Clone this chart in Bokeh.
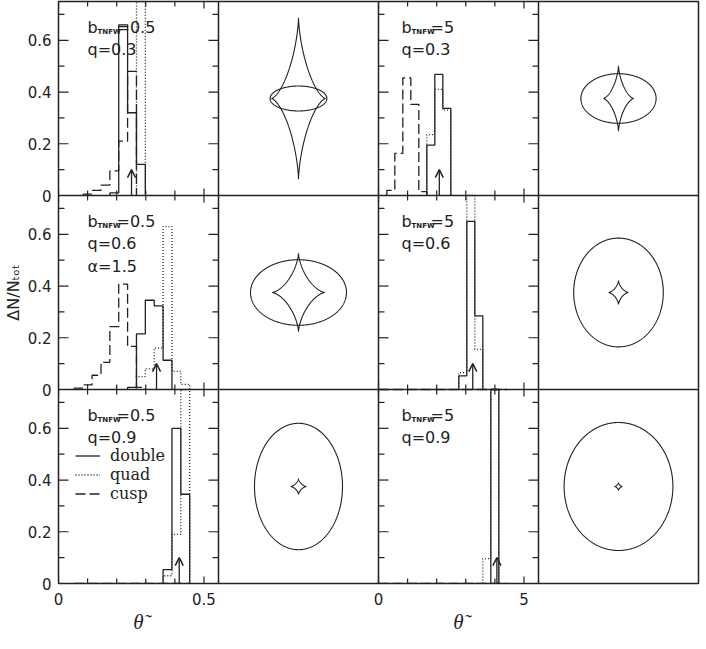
import numpy as np
from bokeh.plotting import figure
from bokeh.models import (Range1d, LinearAxis, FixedTicker, Label, Arrow, OpenHead,
                          Legend, LegendItem, Span)
from bokeh.embed import file_html
from bokeh.resources import INLINE

# ---------------- data ----------------
edges_b05 = [0.0545, 0.085, 0.1155, 0.146, 0.1765, 0.207, 0.2375, 0.268, 0.2985,
             0.329, 0.3595, 0.390, 0.4205, 0.451]
edges_b5 = [0.011, 0.286, 0.561, 0.836, 1.111, 1.386, 1.661, 1.936, 2.211, 2.486,
            2.761, 3.036, 3.311, 3.586, 3.861, 4.136, 4.411]

double_b05_q03 = [0, 0, 0, 0, 0.01, 0.66, 0.32, 0.12, 0, 0, 0, 0, 0]
quad_b05_q03 = [0, 0, 0, 0, 0, 0, 0, 0.95, 0, 0, 0, 0, 0]
cusp_b05_q03 = [0, 0.005, 0.02, 0.04, 0.095, 0.21, 0.48, 0, 0, 0, 0, 0, 0]

double_b05_q06 = [0, 0, 0, 0, 0, 0, 0.008, 0.215, 0.345, 0.323, 0.113, 0, 0]
quad_b05_q06 = [0, 0, 0, 0, 0, 0, 0, 0.05, 0.08, 0.16, 0.63, 0.07, 0.02]
cusp_b05_q06 = [0.005, 0.018, 0.055, 0.105, 0.243, 0.407, 0.167, 0.008, 0, 0, 0, 0, 0]

double_b05_q09 = [0, 0, 0, 0, 0, 0, 0, 0, 0, 0, 0.054, 0.60, 0.345]
quad_b05_q09 = [0, 0, 0, 0, 0, 0, 0, 0, 0, 0, 0.03, 0.19, 0.95]
cusp_b05_q09 = [0, 0, 0, 0, 0, 0, 0, 0, 0, 0, 0, 0, 0]

double_b5_q03 = [0, 0, 0, 0, 0, 0, 0.195, 0.468, 0.337, 0, 0, 0, 0, 0, 0, 0]
quad_b5_q03 = [0, 0, 0, 0, 0, 0, 0.235, 0.41, 0.33, 0, 0, 0, 0, 0, 0, 0]
cusp_b5_q03 = [0, 0.02, 0.163, 0.455, 0.352, 0.015, 0, 0, 0, 0, 0, 0, 0, 0, 0, 0]

double_b5_q06 = [0, 0, 0, 0, 0, 0, 0, 0, 0, 0, 0.053, 0.65, 0.285, 0, 0, 0]
quad_b5_q06 = [0, 0, 0, 0, 0, 0, 0, 0, 0, 0, 0.065, 0.95, 0.155, 0, 0, 0]
cusp_b5_q06 = [0, 0, 0, 0, 0, 0, 0, 0, 0, 0, 0, 0, 0, 0, 0, 0]

double_b5_q09 = [0, 0, 0, 0, 0, 0, 0, 0, 0, 0, 0, 0, 0, 0, 0.95, 0]
quad_b5_q09 = [0, 0, 0, 0, 0, 0, 0, 0, 0, 0, 0, 0, 0, 0.096, 0.95, 0]
cusp_b5_q09 = [0, 0, 0, 0, 0, 0, 0, 0, 0, 0, 0, 0, 0, 0, 0, 0]

arrows_b05 = [0.251, 0.337, 0.415]
arrows_b5 = [2.09, 3.24, 4.07]
arrow_height = 0.1

b_values = ["0.5", "5"]
q_values = ["0.3", "0.6", "0.9"]
alpha_text = "1.5"

# axes
y_max = 0.75
x_max_b05 = 0.55
x_max_b5 = 5.5
y_major_ticks = [0, 0.2, 0.4, 0.6]
y_minor_ticks = [0.1, 0.3, 0.5, 0.7]
y_tick_labels = ["0", "0.2", "0.4", "0.6"]
x_major_b05 = [0, 0.5]
x_minor_b05 = [0.1, 0.2, 0.3, 0.4]
x_labels_b05 = ["0", "0.5"]
x_major_b5 = [0, 5]
x_minor_b5 = [1, 2, 3, 4]
x_labels_b5 = ["0", "5"]

# caustic shapes (units: half panel width = 1); order q=0.3, 0.6, 0.9
astroid_half_x_b05 = [0.34, 0.33, 0.10]
astroid_half_y_b05 = [1.01, 0.49, 0.10]
ellipse_half_x_b05 = [0.355, 0.60, 0.55]
ellipse_half_y_b05 = [0.156, 0.41, 0.79]
astroid_half_x_b5 = [0.19, 0.125, 0.05]
astroid_half_y_b5 = [0.41, 0.15, 0.05]
ellipse_half_x_b5 = [0.47, 0.56, 0.68]
ellipse_half_y_b5 = [0.31, 0.68, 0.80]

# ---------------- layout ----------------
NCOL, NROW = 4, 3
FW, FH = 160, 194
INK = "#222222"
SANS = "DejaVu Sans"
SERIF = "DejaVu Serif"
THETA = "\u03b8\u0303"
CAUS_H = FH / FW

p = figure(frame_width=NCOL * FW, frame_height=NROW * FH,
           x_range=Range1d(0, NCOL), y_range=Range1d(0, NROW),
           x_axis_location=None, y_axis_location=None,
           output_backend="svg", toolbar_location=None)
p.min_border = 0
p.min_border_left = 53
p.min_border_right = 2
p.min_border_top = 1
p.min_border_bottom = 50
p.grid.visible = False
p.outline_line_color = INK
p.outline_line_width = 1.5
p.background_fill_color = "white"
p.border_fill_color = "white"

# each panel gets its own scales, mapped onto its cell of the frame
col_local = {0: (0, x_max_b05), 1: (-1, 1), 2: (0, x_max_b5), 3: (-1, 1)}
xr = {}
for c, (a, b) in col_local.items():
    w = b - a
    xr[f"x{c}"] = Range1d(a - c * w, b + (NCOL - 1 - c) * w)
yr = {}
for r in range(NROW):
    w = y_max
    yr[f"h{r}"] = Range1d(0 - (NROW - 1 - r) * w, y_max + r * w)
    w = 2 * CAUS_H
    yr[f"c{r}"] = Range1d(-CAUS_H - (NROW - 1 - r) * w, CAUS_H + r * w)
p.extra_x_ranges = xr
p.extra_y_ranges = yr

# panel separators
for c in range(1, NCOL):
    p.add_layout(Span(location=c, dimension="height", line_color=INK, line_width=1.5))
for r in range(1, NROW):
    p.add_layout(Span(location=r, dimension="width", line_color=INK, line_width=1.5))

STYLES = {"double": dict(line_dash="solid"),
          "quad": dict(line_dash="1 2"),
          "cusp": dict(line_dash="10 4")}


def outline(edges, counts):
    nz = [i for i, c in enumerate(counts) if c > 0]
    if not nz:
        return [edges[0], edges[-1]], [0.0, 0.0]
    i0, i1 = nz[0], nz[-1]
    xs, ys = [edges[i0]], [0.0]
    for i in range(i0, i1 + 1):
        h = min(counts[i], y_max)
        xs += [edges[i], edges[i + 1]]
        ys += [h, h]
    xs.append(edges[i1 + 1])
    ys.append(0.0)
    return xs, ys


def panel_ticks(xn, yn, xmax, xmaj, xmin_):
    dx, dy = xmax / FW, y_max / FH
    x0, y0, x1, y1 = [], [], [], []
    for vals, L in ((y_major_ticks, 10), (y_minor_ticks, 6)):
        for v in vals:
            x0 += [0, xmax]
            x1 += [L * dx, xmax - L * dx]
            y0 += [v, v]
            y1 += [v, v]
    for vals, L in ((xmaj, 7), (xmin_, 5)):
        for v in vals:
            x0 += [v, v]
            x1 += [v, v]
            y0 += [0, y_max]
            y1 += [L * dy, y_max - L * dy]
    p.segment(x0, y0, x1, y1, x_range_name=xn, y_range_name=yn,
              line_color=INK, line_width=1.2)


def hist_panel(r, c, edges, series, arrow_x, xmax, xmaj, xmin_, b_txt, q_txt,
               extra=None, text_dx=29):
    xn, yn = f"x{c}", f"h{r}"
    panel_ticks(xn, yn, xmax, xmaj, xmin_)
    rends = {}
    for name, counts in series:
        xs, ys = outline(edges, counts)
        rends[name] = p.line(xs, ys, x_range_name=xn, y_range_name=yn,
                             line_color=INK, line_width=1.3, **STYLES[name])
    p.add_layout(Arrow(end=OpenHead(size=8, line_color=INK, line_width=1.5),
                       x_start=arrow_x, y_start=0, x_end=arrow_x, y_end=arrow_height,
                       x_range_name=xn, y_range_name=yn,
                       line_color=INK, line_width=1.3))
    common = dict(x=0, y=y_max, x_range_name=xn, y_range_name=yn, text_color=INK,
                  text_baseline="alphabetic", text_align="left")
    p.add_layout(Label(text="b", x_offset=text_dx, y_offset=-26, text_font=SANS,
                       text_font_size="16px", **common))
    p.add_layout(Label(text="TNFW", x_offset=text_dx + 10, y_offset=-30, text_font=SANS,
                       text_font_size="7px", text_font_style="bold", **common))
    p.add_layout(Label(text="=" + b_txt, x_offset=text_dx + 29, y_offset=-26,
                       text_font=SANS, text_font_size="16px", **common))
    p.add_layout(Label(text="q=" + q_txt, x_offset=text_dx, y_offset=-48, text_font=SANS,
                       text_font_size="16px", **common))
    if extra:
        p.add_layout(Label(text=extra, x_offset=text_dx, y_offset=-71, text_font=SANS,
                           text_font_size="16px", **common))
    return rends


def caustic_panel(r, c, ax_, ay_, ex_, ey_):
    t = np.linspace(0, 2 * np.pi, 721)
    kw = dict(x_range_name=f"x{c}", y_range_name=f"c{r}", line_color=INK, line_width=1.1)
    p.line(ex_ * np.cos(t), ey_ * np.sin(t), **kw)
    p.line(ax_ * np.cos(t) ** 3, ay_ * np.sin(t) ** 3, **kw)


series_b05 = [
    [("double", double_b05_q03), ("quad", quad_b05_q03), ("cusp", cusp_b05_q03)],
    [("double", double_b05_q06), ("quad", quad_b05_q06), ("cusp", cusp_b05_q06)],
    [("double", double_b05_q09), ("quad", quad_b05_q09), ("cusp", cusp_b05_q09)],
]
series_b5 = [
    [("double", double_b5_q03), ("quad", quad_b5_q03), ("cusp", cusp_b5_q03)],
    [("double", double_b5_q06), ("quad", quad_b5_q06), ("cusp", cusp_b5_q06)],
    [("double", double_b5_q09), ("quad", quad_b5_q09), ("cusp", cusp_b5_q09)],
]

legend_rends = None
for r in range(NROW):
    rends = hist_panel(r, 0, edges_b05, series_b05[r], arrows_b05[r], x_max_b05,
                       x_major_b05, x_minor_b05, b_values[0], q_values[r],
                       extra=("\u03b1=" + alpha_text) if r == 1 else None, text_dx=29)
    if r == NROW - 1:
        legend_rends = rends
    caustic_panel(r, 1, astroid_half_x_b05[r], astroid_half_y_b05[r],
                  ellipse_half_x_b05[r], ellipse_half_y_b05[r])
    hist_panel(r, 2, edges_b5, series_b5[r], arrows_b5[r], x_max_b5,
               x_major_b5, x_minor_b5, b_values[1], q_values[r], text_dx=23)
    caustic_panel(r, 3, astroid_half_x_b5[r], astroid_half_y_b5[r],
                  ellipse_half_x_b5[r], ellipse_half_y_b5[r])

items = [LegendItem(label=name, renderers=[legend_rends[name]])
         for name in ["double", "quad", "cusp"]]
p.add_layout(Legend(items=items, location=(17, 80), glyph_width=25, glyph_height=17,
                    label_height=17, label_standoff=10, spacing=0, padding=0, margin=0,
                    border_line_alpha=0, background_fill_alpha=0,
                    label_text_font=SERIF, label_text_font_size="16px",
                    label_text_color=INK))


# ---------------- tick labels (on the main scales) ----------------
def label_axis(ticks, labels, standoff, font=SANS, size="15px", style="normal"):
    ticks = [round(t, 6) for t in ticks]
    ax = LinearAxis(ticker=FixedTicker(ticks=ticks))
    ax.major_label_overrides = {t: s for t, s in zip(ticks, labels)}
    ax.axis_line_color = None
    ax.major_tick_in = 0
    ax.major_tick_out = 0
    ax.minor_tick_in = 0
    ax.minor_tick_out = 0
    ax.major_tick_line_color = None
    ax.minor_tick_line_color = None
    ax.major_label_text_font = font
    ax.major_label_text_font_size = size
    ax.major_label_text_font_style = style
    ax.major_label_text_color = INK
    ax.major_label_standoff = standoff
    return ax


ypos, ylab = [], []
for r in range(NROW):
    base = NROW - 1 - r
    for v, s in zip(y_major_ticks, y_tick_labels):
        ypos.append(base + v / y_max)
        ylab.append(s)
yax = label_axis(ypos, ylab, 7)
yax.axis_label = "\u0394N/N\u209c\u2092\u209c"
yax.axis_label_text_font = SANS
yax.axis_label_text_font_style = "normal"
yax.axis_label_text_font_size = "16px"
yax.axis_label_text_color = INK
yax.axis_label_standoff = 2
p.add_layout(yax, "left")

xpos = [0 + v / x_max_b05 for v in x_major_b05] + [2 + v / x_max_b5 for v in x_major_b5]
xlab = x_labels_b05 + x_labels_b5
p.add_layout(label_axis(xpos, xlab, 9), "below")
p.add_layout(label_axis([0.5, 2.5], [THETA, THETA], 2, font="Liberation Serif",
                        size="21px", style="italic"), "below")

open("out.html", "w").write(file_html(p, INLINE))
